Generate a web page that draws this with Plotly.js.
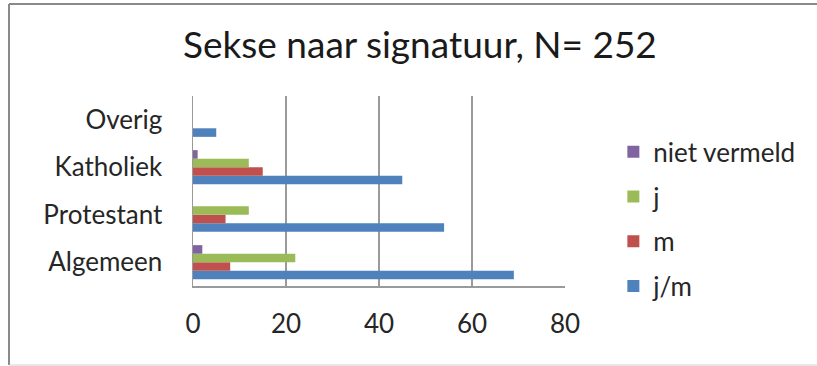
<!DOCTYPE html>
<html>
<head>
<meta charset="utf-8">
<script src="https://cdn.plot.ly/plotly-3.0.1.min.js"></script>
<style>html,body{margin:0;padding:0;background:#fff;}#chart{width:817px;height:366px;}</style>
</head>
<body>
<div id="chart"></div>
<script>
const categories = ["Algemeen", "Protestant", "Katholiek", "Overig"];
const seriesNames = ["j/m", "m", "j", "niet vermeld"];
const valuesJM = [69, 54, 45, 5];
const valuesM = [8, 7, 15, 0];
const valuesJ = [22, 12, 12, 0];
const valuesNV = [2, 0, 1, 0];
const xTicks = [0, 20, 40, 60, 80];
const colors = ["#4F81BD", "#C0504D", "#9BBB59", "#8064A2"];

const allValues = [valuesJM, valuesM, valuesJ, valuesNV];
const fontFam = "Lato, sans-serif";

const traces = allValues.map((vals, i) => ({
  type: "bar",
  orientation: "h",
  name: seriesNames[i],
  y: categories,
  x: vals,
  marker: {color: colors[i]},
  legendgroup: "g" + i,
  legendrank: 1000 - i,
  hoverinfo: "x+name"
}));

const layout = {
  width: 817,
  height: 366,
  margin: {l: 193, r: 252, t: 96, b: 80},
  paper_bgcolor: "#fff",
  plot_bgcolor: "#fff",
  barmode: "group",
  bargap: 0.28,
  bargroupgap: 0,
  font: {family: fontFam, color: "#262626", size: 26},
  title: {
    text: "Sekse naar signatuur, N= 252",
    font: {family: fontFam, size: 37, color: "#1a1a1a"},
    xref: "container", yref: "container",
    x: 0.514, xanchor: "center",
    y: 0.877, yanchor: "middle"
  },
  xaxis: {
    range: [0, 80],
    tickvals: xTicks,
    ticktext: xTicks.map(String),
    showgrid: true,
    gridcolor: "#9a9a9a",
    gridwidth: 1.5,
    zeroline: false,
    showline: true,
    linecolor: "#9a9a9a",
    linewidth: 1.5,
    mirror: false,
    ticks: "",
    ticklabelstandoff: 14,
    tickfont: {family: fontFam, size: 26, color: "#262626"},
    fixedrange: true
  },
  yaxis: {
    type: "category",
    categoryorder: "array",
    categoryarray: categories,
    showgrid: false,
    zeroline: false,
    showline: true,
    linecolor: "#9a9a9a",
    linewidth: 1.5,
    ticks: "",
    ticklabelstandoff: 24,
    tickfont: {family: fontFam, size: 26, color: "#262626"},
    fixedrange: true
  },
  legend: {
    traceorder: "grouped",
    tracegroupgap: 8,
    x: 1.13, xanchor: "left",
    y: 0.83, yanchor: "top",
    font: {family: fontFam, size: 26, color: "#262626"},
    itemwidth: 30,
    bgcolor: "rgba(0,0,0,0)"
  },
  shapes: [
    {type: "line", xref: "paper", yref: "paper", x0: -0.4946, x1: -0.4946, y0: 1.484, y1: -0.416, line: {color: "#8a8a8a", width: 2}},
    {type: "line", xref: "paper", yref: "paper", x0: -0.4946, x1: 1.7, y0: 1.484, y1: 1.484, line: {color: "#8a8a8a", width: 2}},
    {type: "line", xref: "paper", yref: "paper", x0: -0.4946, x1: 1.7, y0: -0.416, y1: -0.416, line: {color: "#d0d0d0", width: 1}}
  ],
  showlegend: true
};

Plotly.newPlot("chart", traces, layout, {displayModeBar: false, staticPlot: true});
</script>
</body>
</html>
